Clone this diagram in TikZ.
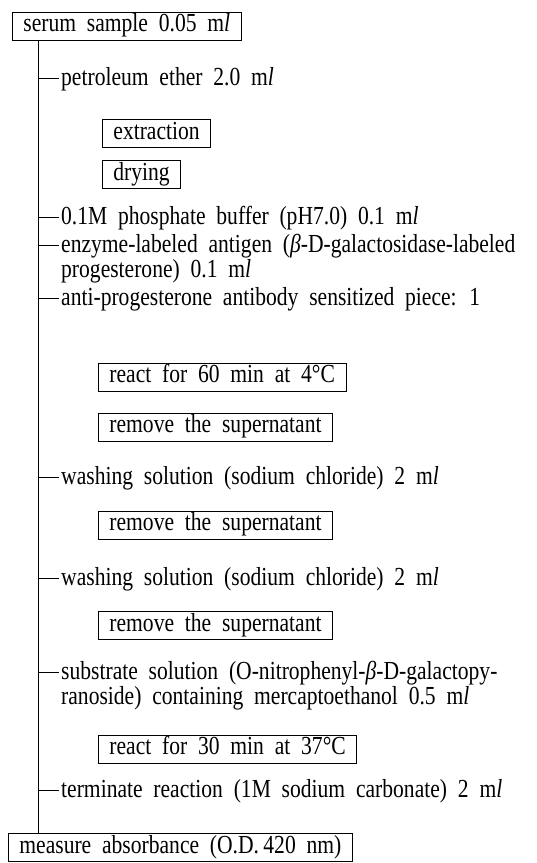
\documentclass[tikz,border=0pt]{standalone}
\usepackage{fontspec}
\setmainfont{Liberation Serif}[FakeStretch=0.83,WordSpace=2]
\usetikzlibrary{calc}

\tikzset{
	stepbox/.style={draw, line width=0.3mm, anchor=west, inner xsep=11pt, inner ysep=3pt, minimum height=28pt, text height=16pt, text depth=5pt},
	additem/.style={anchor=base west, inner xsep=2pt, inner ysep=0pt, align=left},
	branch/.style={line width=0.3mm},
}
\def\ml{m\textit{l}}

\begin{document}
\begin{tikzpicture}[x=1pt, y=-1pt, font=\fontsize{26}{25}\selectfont]
			%%%%% START %%%%%
			\useasboundingbox (0, 0) rectangle (537, 863);
			
			\node[stepbox] (serum) at (12, 26) {serum sample 0.05 \ml};
			\coordinate (trunk) at ($(serum.south west)+(26, 0)$);
			
			\node[additem] (petro) at (59, 85) {petroleum ether 2.0 \ml};
			\node[stepbox] (extr) at (102, 133.5) {extraction};
			\node[stepbox] (dry) at (102, 174.5) {drying};
			
			\node[additem] (phos) at (59, 224) {0.1M phosphate buffer (pH7.0) 0.1 \ml};
			\node[additem] (enz) at (59, 277) {enzyme-labeled antigen (\textit{β}-D-galactosidase-labeled\\progesterone) 0.1 \ml};
			\node[additem] (anti) at (59, 305) {anti-progesterone antibody sensitized piece: 1};
			\node[stepbox] (react1) at (98, 377) {react for 60 min at 4°C};
			\node[stepbox] (remv1) at (98, 427) {remove the supernatant};
			
			\node[additem] (wash1) at (59, 484) {washing solution (sodium chloride) 2 \ml};
			\node[stepbox] (remv2) at (98, 525) {remove the supernatant};
			
			\node[additem] (wash2) at (59, 585) {washing solution (sodium chloride) 2 \ml};
			\node[stepbox] (remv3) at (98, 625.5) {remove the supernatant};
			
			\node[additem] (subs) at (59, 704) {substrate solution (O-nitrophenyl-\textit{β}-D-galactopy-\\ranoside) containing mercaptoethanol 0.5 \ml};
			\node[stepbox] (react2) at (98, 749) {react for 30 min at 37°C};
			
			\node[additem] (term) at (59, 797) {terminate reaction (1M sodium carbonate) 2 \ml};
			
			\node[stepbox] (meas) at (8, 847.5) {measure absorbance (O.D.\,420 nm)};
			
			% main line and side branches (two-line items hook onto their first line)
			\draw[branch] (trunk) -- (trunk |- meas.north);
			\foreach \n/\up in {petro/7, phos/7, enz/32, anti/7, wash1/7, wash2/7, subs/32, term/7}{
				\coordinate (\n-hook) at ([yshift=\up pt]\n.base west);
				\draw[branch] (trunk |- \n-hook) -- (\n-hook);
			}
			
			%%%%% END %%%%%
		\end{tikzpicture}
\end{document}
